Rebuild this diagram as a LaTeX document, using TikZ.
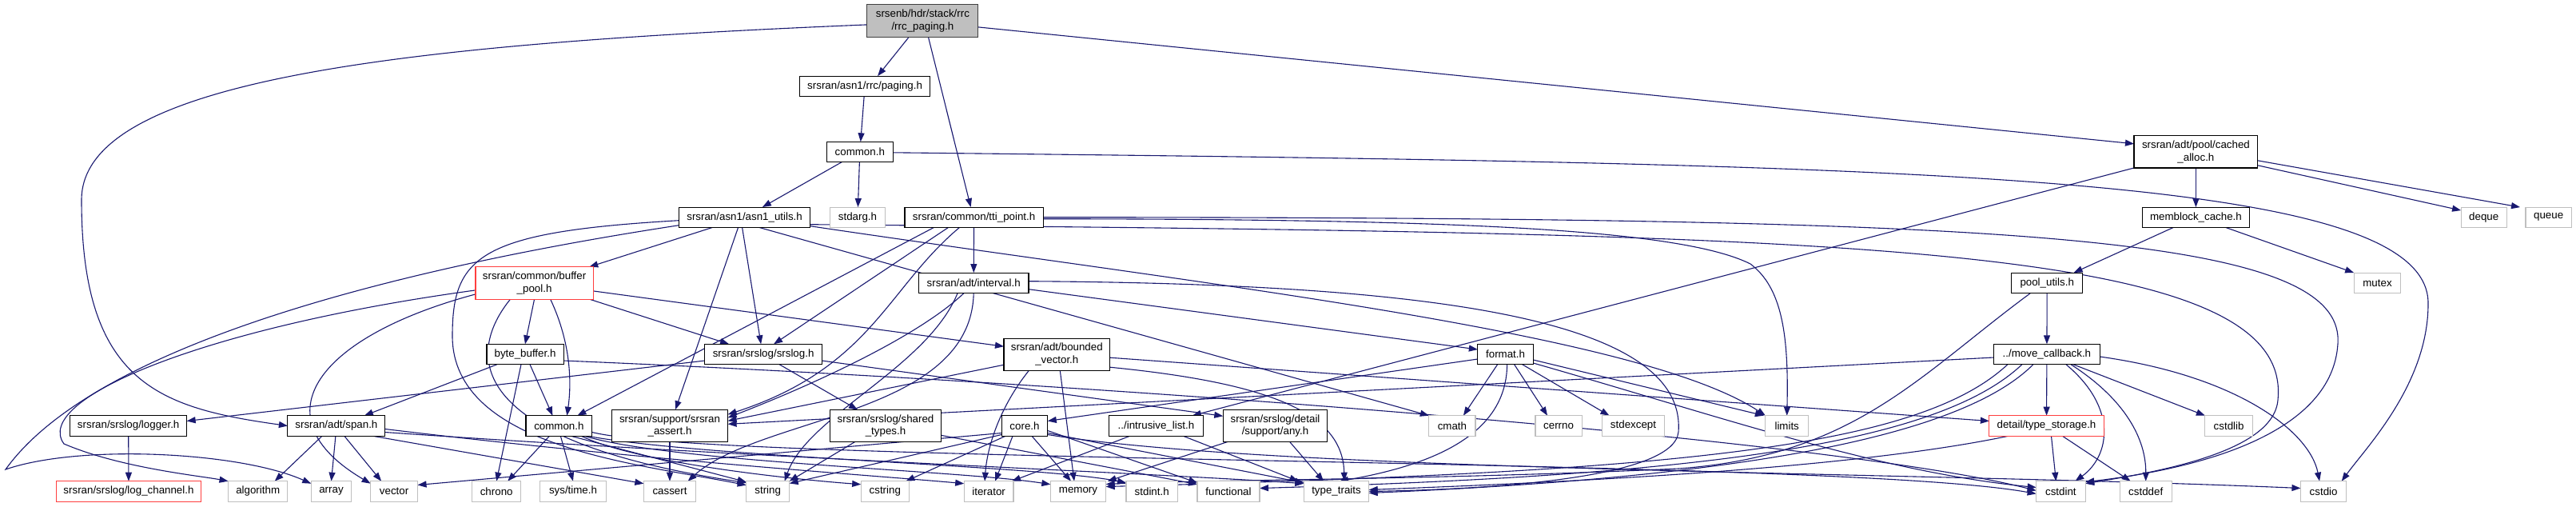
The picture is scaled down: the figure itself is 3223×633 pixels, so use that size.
\documentclass[tikz,border=0pt]{standalone}
\usepackage{fontspec}
\newfontfamily\dxfam{Liberation Sans}
\newcommand\dxfont{\dxfam\fontsize{13.33}{15.5}\selectfont}
\usetikzlibrary{arrows.meta}
\definecolor{edgeblue}{HTML}{191970}
\definecolor{sysgray}{HTML}{BFBFBF}
\definecolor{truncred}{HTML}{FF3F3F}
\definecolor{mainfill}{HTML}{BFBFBF}
\definecolor{mainborder}{HTML}{404040}
\pgfdeclarelayer{bg}
\pgfsetlayers{bg,main}
\tikzset{
  base/.style={draw, rectangle, inner sep=0pt, outer sep=0pt, font=\dxfont, align=center, line width=1.1pt, fill=white},
  nb/.style={base, draw=black},
  sys/.style={base, draw=sysgray},
  trunc/.style={base, draw=truncred},
  mainn/.style={base, draw=mainborder, fill=mainfill},
  wh/.style 2 args={minimum width=#1pt, minimum height=#2pt},
  edge/.style={draw=edgeblue, line width=1.1pt, -{Triangle[length=11pt,width=8pt]}},
}
\begin{document}
\begin{tikzpicture}[x=1pt,y=-1pt]
\useasboundingbox (0,0) rectangle (3223,633);
% ---------- nodes ----------
\node[mainn,wh={139}{40.3}] (M) at (1154.4,25.9) {srsenb/hdr/stack/rrc\\/rrc\_paging.h};
\node[nb,wh={162.8}{25.7}] (P) at (1082.1,107.9) {srsran/asn1/rrc/paging.h};
\node[nb,wh={82.8}{25}] (AC) at (1075.8,189.8) {common.h};
\node[nb,wh={164.2}{25.3}] (AU) at (931.6,271.7) {srsran/asn1/asn1\_utils.h};
\node[sys,wh={68.7}{25.3}] (SA) at (1073,271.7) {stdarg.h};
\node[nb,wh={173.3}{25.3}] (T) at (1218.6,271.7) {srsran/common/tti\_point.h};
\node[nb,wh={154.8}{40.3}] (CA) at (2747.4,189.8) {srsran/adt/pool/cached\\\_alloc.h};
\node[nb,wh={134.7}{25.3}] (MB) at (2747.4,271.7) {memblock\_cache.h};
\node[sys,wh={57.3}{25.3}] (DQ) at (3107.7,271.7) {deque};
\node[sys,wh={57.2}{25.3}] (QU) at (3188.6,271.7) {queue};
\node[trunc,wh={147.3}{40.3}] (BP) at (668.6,353.9) {srsran/common/buffer\\\_pool.h};
\node[nb,wh={137.5}{25.3}] (IV) at (1218.2,353.7) {srsran/adt/interval.h};
\node[nb,wh={88.8}{25.7}] (PU) at (2561.2,353.9) {pool\_utils.h};
\node[sys,wh={58.7}{25.7}] (MX) at (2974.5,353.9) {mutex};
\node[nb,wh={96.1}{25.4}] (BB) at (657,443) {byte\_buffer.h};
\node[nb,wh={146.6}{25.4}] (SL) at (955.1,443) {srsran/srslog/srslog.h};
\node[nb,wh={132.6}{40.3}] (BV) at (1322.3,443.2) {srsran/adt/bounded\\\_vector.h};
\node[nb,wh={69.5}{25.4}] (FMT) at (1883.6,443) {format.h};
\node[nb,wh={132.5}{25.4}] (MC) at (2560.9,443) {../move\_callback.h};
% row 4
\node[nb,wh={145.9}{25.6}] (LG) at (160.7,532.5) {srsran/srslog/logger.h};
\node[nb,wh={122}{25.6}] (SP) at (420.9,532.5) {srsran/adt/span.h};
\node[nb,wh={82.8}{25.6}] (CO) at (699.4,532.5) {common.h};
\node[nb,wh={145.2}{40}] (AS) at (838,532.3) {srsran/support/srsran\\\_assert.h};
\node[nb,wh={138.9}{40}] (ST) at (1108,532.3) {srsran/srslog/shared\\\_types.h};
\node[nb,wh={57.6}{25.6}] (CORE) at (1282,532.5) {core.h};
\node[nb,wh={118.6}{25.6}] (IL) at (1446.5,532.5) {../intrusive\_list.h};
\node[nb,wh={130.5}{40}] (AN) at (1595.5,532.3) {srsran/srslog/detail\\/support/any.h};
\node[sys,wh={58.2}{25.6}] (CM) at (1816.9,532.5) {cmath};
\node[sys,wh={58.3}{25.6}] (CERR) at (1950.1,532.5) {cerrno};
\node[sys,wh={77.8}{25.6}] (SEX) at (2043.5,532.5) {stdexcept};
\node[sys,wh={53.7}{25.6}] (LIM) at (2235.7,532.5) {limits};
\node[trunc,wh={143.2}{25.6}] (TS) at (2560.5,532.5) {detail/type\_storage.h};
\node[sys,wh={59.4}{25.6}] (CSL) at (2788.6,532.5) {cstdlib};
% bottom row
\node[trunc,wh={180.2}{25.6}] (LC) at (161,614.5) {srsran/srslog/log\_channel.h};
\node[sys,wh={74.4}{25.6}] (ALG) at (322.7,614.5) {algorithm};
\node[sys,wh={50.5}{25.6}] (ARR) at (414.5,614.5) {array};
\node[sys,wh={58.9}{25.6}] (VEC) at (493.1,614.5) {vector};
\node[sys,wh={61}{25.6}] (CHR) at (621.2,614.5) {chrono};
\node[sys,wh={82.7}{25.6}] (SYS) at (717,614.5) {sys/time.h};
\node[sys,wh={65.3}{25.6}] (CAS) at (838,614.5) {cassert};
\node[sys,wh={54}{25.6}] (STR) at (960.7,614.5) {string};
\node[sys,wh={60.3}{25.6}] (CSTR) at (1107.3,614.5) {cstring};
\node[sys,wh={61.8}{25.6}] (IT) at (1237.1,614.5) {iterator};
\node[sys,wh={69.4}{25.6}] (MEM) at (1349,614.5) {memory};
\node[sys,wh={64.5}{25.6}] (STDI) at (1441.2,614.5) {stdint.h};
\node[sys,wh={78}{25.6}] (FUN) at (1537,614.5) {functional};
\node[sys,wh={81.3}{25.6}] (TT) at (1672,614.5) {type\_traits};
\node[sys,wh={61.6}{25.6}] (CI) at (2578.4,614.5) {cstdint};
\node[sys,wh={65.1}{25.6}] (CD) at (2684.7,614.5) {cstddef};
\node[sys,wh={57.3}{25.6}] (CIO) at (2907.1,614.5) {cstdio};
% ---------- edges ----------
\begin{pgfonlayer}{bg}
\fill[white] (0,0) rectangle (3223,633);
% main
\draw[edge] ([xshift=-17pt]M.south) -- ([xshift=16pt]P.north);
\draw[edge] ([xshift=7pt]M.south) -- ([xshift=-4pt]T.north);
\draw[edge] ([yshift=-8pt]M.east) -- ([yshift=10pt]CA.west);
\draw[edge] ([yshift=-5pt]M.west) .. controls (500,55) and (102,100) .. (102,250) .. controls (102,480) and (200,510) .. (SP.west);
% asn1
\draw[edge] (P) -- (AC);
\draw[edge] (AC) -- (AU);
\draw[edge] (AC) -- (SA);
\draw[edge] ([yshift=-1pt]AC.east) .. controls (2400,205) and (3040,215) .. (3038,380) .. controls (3038,480) and (2960,560) .. ([xshift=-6pt]CIO.north east);
% asn1_utils
\draw[edge] ([xshift=-40pt]AU.south) -- ([xshift=-5pt]BP.north east);
\draw[edge] ([xshift=-3pt]AU.south) -- ([xshift=-3pt]SL.north);
\draw[edge] ([xshift=-8pt]AU.south) -- ([xshift=7pt]AS.north);
\draw[edge] ([xshift=18pt]AU.south) -- (CM.north west);
\draw[edge] ([yshift=-4pt]AU.west) .. controls (600,290) and (566,320) .. (566,420) .. controls (566,560) and (800,580) .. ([yshift=-5pt]STR.north west);
\draw[edge] ([yshift=-10pt]AU.west) .. controls (500,335) and (120,430) .. (7,587) .. controls (100,555) and (300,565) .. ([yshift=-3pt]ARR.north west);
\draw[edge] ([yshift=-11pt]AU.east) .. controls (1500,355) and (2050,415) .. (LIM.north west);
\draw[edge] ([yshift=-9pt]AU.east) .. controls (2300,292) and (2870,300) .. (2850,500) .. controls (2845,565) and (2700,590) .. ([yshift=-3pt]CI.north east);
% tti_point
\draw[edge] (T) -- (IV);
\draw[edge] ([xshift=-32pt]T.south) -- ([xshift=13pt]SL.north);
\draw[edge] ([xshift=-50pt]T.south) -- ([xshift=23pt]CO.north);
\draw[edge] ([xshift=-18pt]T.south) .. controls (1110,360) and (1090,460) .. ([yshift=14pt]AS.east);
\draw[edge] ([yshift=-2pt]T.east) .. controls (1800,274) and (2100,285) .. (2190,330) .. controls (2230,360) and (2238,420) .. (LIM.north);
\draw[edge] (T.east) .. controls (2500,272) and (2935,290) .. (2925,430) .. controls (2918,540) and (2760,585) .. ([yshift=-1pt]CI.north east);
% cached_alloc & pools
\draw[edge] (CA) -- (MB);
\draw[edge] ([yshift=-17pt]CA.east) -- ([yshift=-4pt]DQ.north west);
\draw[edge] ([yshift=-11pt]CA.east) -- ([xshift=-7pt]QU.north west);
\draw[edge] (CA.south west) -- ([xshift=-14pt]IL.north east);
\draw[edge] ([xshift=-28pt]MB.south) -- ([xshift=-11pt]PU.north east);
\draw[edge] ([xshift=37pt]MB.south) -- (MX.north west);
\draw[edge] (PU) -- (MC);
\draw[edge] ([xshift=-21pt]PU.south) .. controls (2400,470) and (2320,570) .. (2100,586) .. controls (1800,600) and (1500,600) .. ([yshift=9pt]MEM.east);
% move_callback
\draw[edge] (MC) -- (TS);
\draw[edge] ([xshift=33pt]MC.south) -- (CSL.north west);
\draw[edge] ([yshift=-3pt]MC.east) .. controls (2800,470) and (2890,540) .. ([xshift=-5pt]CIO.north);
\draw[edge] ([xshift=30pt]MC.south) .. controls (2660,500) and (2685,550) .. (CD.north);
\draw[edge] ([xshift=24pt]MC.south) .. controls (2650,510) and (2640,570) .. ([xshift=18pt]CI.north);
\draw[edge] ([yshift=-4pt]MC.west) -- ([yshift=2pt]AS.east);
\draw[edge] ([xshift=-49pt]MC.south) .. controls (2400,560) and (2100,590) .. ([yshift=6pt]MEM.east);
\draw[edge] ([xshift=-31pt]MC.south) .. controls (2420,560) and (2100,595) .. ([yshift=4pt]FUN.east);
\draw[edge] ([xshift=-17pt]MC.south) .. controls (2440,560) and (2100,600) .. ([yshift=-2pt]TT.east);
% type_storage
\draw[edge] ([xshift=6pt]TS.south) -- ([xshift=-6pt]CI.north);
\draw[edge] ([xshift=20pt]TS.south) -- ([xshift=-19pt]CD.north);
\draw[edge] ([xshift=-48pt]TS.south) .. controls (2300,590) and (1900,605) .. ([yshift=2pt]TT.east);
% buffer_pool
\draw[edge] (BP.south) -- (BB.north);
\draw[edge] ([xshift=20pt]BP.south) .. controls (715,430) and (715,480) .. ([xshift=10pt]CO.north);
\draw[edge] ([xshift=-5pt]BP.south east) -- ([xshift=-43pt]SL.north);
\draw[edge] ([yshift=-10pt]BP.east) -- ([yshift=10pt]BV.west);
\draw[edge] ([yshift=-9pt]BP.west) .. controls (250,410) and (40,500) .. (80,555) .. controls (150,585) and (250,595) .. (ALG.north west);
\draw[edge] ([yshift=-14pt]BP.west) .. controls (400,420) and (320,520) .. ([yshift=-3pt]VEC.north west);
\draw[edge] ([xshift=-30pt]BP.south) .. controls (585,440) and (575,550) .. ([yshift=-2pt]STR.north west);
% byte_buffer
\draw[edge] ([xshift=6pt]BB.south) -- ([xshift=-8pt]CO.north);
\draw[edge] ([xshift=-35pt]BB.south) -- ([xshift=35pt]SP.north);
\draw[edge] ([xshift=-5pt]BB.south) -- (CHR.north);
\draw[edge] ([yshift=-8pt]BB.east) .. controls (1400,480) and (2300,550) .. ([yshift=1pt]CI.west);
% srslog
\draw[edge] ([yshift=-8pt]SL.west) -- ([yshift=6pt]LG.east);
\draw[edge] ([xshift=20pt]SL.south) -- ([xshift=-35pt]ST.north);
\draw[edge] ([yshift=-8pt]SL.east) -- ([yshift=-8pt]AN.north west);
\draw[edge] (LG) -- (LC);
% span
\draw[edge] ([xshift=-18pt]SP.south) -- ([xshift=21pt]ALG.north);
\draw[edge] ([xshift=-1pt]SP.south) -- (ARR.north);
\draw[edge] ([xshift=10pt]SP.south) -- ([xshift=-16pt]VEC.north);
\draw[edge] ([xshift=46pt]SP.south) -- ([yshift=-3pt]CAS.north west);
\draw[edge] ([yshift=-4pt]SP.east) .. controls (800,575) and (1100,595) .. ([yshift=-3pt]IT.north west);
\draw[edge] ([yshift=-8pt]SP.east) .. controls (900,570) and (1450,592) .. ([yshift=-3pt]TT.north west);
% common.h (srsran/common)
\draw[edge] ([xshift=-12pt]CO.south) -- ([xshift=14pt]CHR.north);
\draw[edge] ([xshift=2pt]CO.south) -- (SYS.north);
\draw[edge] ([xshift=15pt]CO.south) -- ([yshift=-1pt]STR.north west);
\draw[edge] ([xshift=28pt]CO.south) .. controls (800,580) and (1000,600) .. ([yshift=-4pt]CSTR.north west);
\draw[edge] ([xshift=32pt]CO.south) .. controls (840,578) and (1200,588) .. ([yshift=-4pt]MEM.north west);
\draw[edge] ([xshift=36pt]CO.south) .. controls (880,572) and (1300,582) .. ([yshift=-2pt]STDI.north west);
\draw[edge] ([yshift=-8pt]CO.east) .. controls (900,580) and (2300,572) .. ([yshift=-3pt]CI.west);
% assert, shared types
\draw[edge] (AS) -- (CAS);
\draw[edge] ([xshift=-38pt]ST.south) -- (STR.north east);
\draw[edge] ([yshift=-12pt]ST.east) -- ([yshift=-4pt]FUN.north west);
% interval
\draw[edge] ([yshift=-8pt]IV.east) -- ([yshift=6pt]FMT.west);
\draw[edge] ([yshift=2pt]IV.east) .. controls (1800,355) and (2110,400) .. (2100,540) .. controls (2095,600) and (1850,612) .. (TT.east);
\draw[edge] ([xshift=-12pt]IV.south) .. controls (1150,420) and (1020,480) .. ([yshift=10pt]AS.east);
\draw[edge] (IV.south) .. controls (1215,520) and (950,520) .. ([xshift=-10pt]CAS.north east);
\draw[edge] ([xshift=-20pt]IV.south) .. controls (1160,460) and (1010,520) .. ([xshift=-6pt]STR.north east);
% bounded_vector
\draw[edge] ([xshift=-35pt]BV.south) .. controls (1250,510) and (1235,560) .. ([xshift=-5pt]IT.north);
\draw[edge] ([xshift=4pt]BV.south) -- ([xshift=-5pt]MEM.north);
\draw[edge] ([yshift=-13pt]BV.west) -- ([yshift=6pt]AS.east);
\draw[edge] ([yshift=-16pt]BV.east) .. controls (1600,480) and (1680,520) .. ([xshift=10pt]TT.north);
\draw[edge] ([yshift=-4pt]BV.east) -- ([yshift=6pt]TS.west);
% format
\draw[edge] ([yshift=-6pt]FMT.west) -- ([yshift=6pt]CORE.east);
\draw[edge] ([xshift=-10pt]FMT.south) -- ([xshift=14pt]CM.north);
\draw[edge] ([xshift=11pt]FMT.south) -- ([xshift=-14pt]CERR.north);
\draw[edge] ([xshift=21pt]FMT.south) -- ([xshift=-30pt]SEX.north);
\draw[edge] ([yshift=-7pt]FMT.east) -- ([xshift=-2pt]LIM.north west);
\draw[edge] ([yshift=-11pt]FMT.east) .. controls (2150,520) and (2350,590) .. ([yshift=5pt]CI.west);
\draw[edge] ([xshift=2pt]FMT.south) .. controls (1885,540) and (1800,580) .. ([xshift=4pt]TT.north);
% core
\draw[edge] ([yshift=-9pt]CORE.west) -- ([yshift=8pt]VEC.east);
\draw[edge] ([yshift=-11pt]CORE.west) -- ([yshift=10pt]STR.east);
\draw[edge] ([xshift=-24pt]CORE.south) -- ([xshift=-4pt]CSTR.north east);
\draw[edge] ([xshift=-15pt]CORE.south) -- ([xshift=8pt]IT.north);
\draw[edge] ([xshift=9pt]CORE.south) -- ([xshift=-9pt]MEM.north);
\draw[edge] ([yshift=-6pt]CORE.east) -- ([yshift=-2pt]FUN.north west);
\draw[edge] ([yshift=-9pt]CORE.east) -- ([yshift=-2pt]TT.north west);
\draw[edge] ([yshift=-11pt]CORE.east) .. controls (1600,590) and (2400,590) .. ([yshift=4pt]CIO.west);
% intrusive list, any
\draw[edge] ([xshift=-33pt]IL.south) -- ([xshift=-2pt]IT.north east);
\draw[edge] ([xshift=34pt]IL.south) -- ([xshift=-7pt]TT.north west);
\draw[edge] ([xshift=-59pt]AN.south) -- ([xshift=2pt]MEM.north east);
\draw[edge] ([xshift=18pt]AN.south) -- ([xshift=-16pt]TT.north);
\end{pgfonlayer}
\end{tikzpicture}
\end{document}
